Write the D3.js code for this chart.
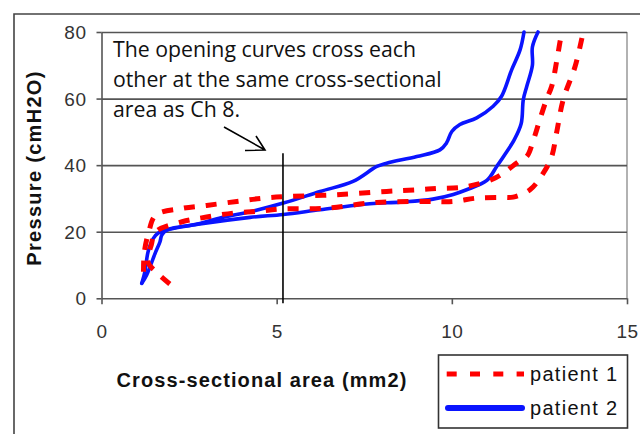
<!DOCTYPE html>
<html>
<head>
<meta charset="utf-8">
<script src="https://cdn.jsdelivr.net/npm/d3@7"></script>
<style>
  html, body { margin: 0; padding: 0; background: #fff; }
  svg { display: block; }
</style>
</head>
<body>
<svg id="chart" width="640" height="434"></svg>
<script>
// ---- data ----
const xTicks = [0, 5, 10, 15];
const yTicks = [0, 20, 40, 60, 80];
const seriesNames = ["patient 1", "patient 2"];

// patient 1 (red dashed) – two curves
const patient1CurveA = [
  [1.95, 4.3], [1.6, 7.5], [1.32, 11], [1.42, 16], [1.55, 20], [2.3, 23],
  [3.0, 24.4], [3.76, 25.6], [4.43, 26.1], [5.1, 26.8], [6.43, 27.1],
  [7.86, 28.8], [9.28, 29.1], [10.04, 29.1], [10.71, 30.1], [11.47, 30.3],
  [11.75, 30.4], [12.23, 32.6], [12.61, 37.6], [12.85, 42.6], [12.99, 49.7],
  [13.18, 59.7], [13.52, 69.7], [13.75, 80]
];
const patient1CurveB = [
  [1.2, 8], [1.22, 13.6], [1.35, 20], [1.55, 25], [2.3, 27], [3.0, 27.9],
  [3.86, 29.1], [4.62, 30.1], [5.38, 30.6], [6.7, 31.1], [8.14, 32.1],
  [9.0, 32.6], [9.6, 33.0], [10.4, 33.5], [11.25, 36.2], [11.9, 41],
  [12.14, 42.6], [12.33, 47.6], [12.51, 53.6], [12.7, 59.7], [12.85, 63.7],
  [13.0, 71.7], [13.1, 77.7], [13.15, 80]
];

// patient 2 (blue solid) – two curves
const patient2CurveA = [
  [1.15, 4.5], [1.24, 8], [1.33, 14], [1.48, 18], [1.62, 19.6], [1.86, 20.5],
  [2.81, 22.5], [3.5, 24.4], [4.24, 26], [5.19, 28.6], [6.24, 32.1],
  [7.18, 35.1], [7.86, 39.6], [8.14, 40.6], [9.0, 42.6], [9.66, 44.6],
  [9.85, 46.7], [10.0, 50.1], [10.23, 52.2], [10.71, 54.2], [11.18, 57.7],
  [11.42, 60.7], [11.71, 68.7], [11.95, 74.7], [12.06, 80]
];
const patient2CurveB = [
  [1.15, 4.5], [1.29, 7], [1.53, 13.5], [1.67, 17], [1.72, 19], [1.86, 20.5],
  [2.81, 22.3], [4.24, 24.3], [5.19, 25.2], [6.24, 26.6], [7.66, 28.4],
  [8.52, 28.9], [9.46, 29.8], [10.04, 31.2], [10.42, 32.6], [11.0, 35.4],
  [11.28, 39.6], [11.5, 43], [11.78, 47.6], [11.98, 52.5], [12.04, 59.7],
  [12.14, 63.7], [12.3, 70], [12.3, 75.5], [12.46, 80]
];

const annotationLines = [
  "The opening curves cross each",
  "other at the same cross-sectional",
  "area as Ch 8."
];
const markerX = 5.18;
const markerTopP = 43.6;
const xLabel = "Cross-sectional area (mm2)";
const yLabel = "Pressure (cmH2O)";

// ---- drawing ----
const svg = d3.select("#chart");
const x = d3.scaleLinear().domain([0, 15]).range([101.5, 627]);
const y = d3.scaleLinear().domain([0, 80]).range([298.3, 32]);
const arial = "'Liberation Sans', Arial, sans-serif";

// outer frame (top & left visible)
svg.append("path")
  .attr("d", "M14,434 L14,14 L640,14")
  .attr("fill", "none").attr("stroke", "#444").attr("stroke-width", 1.6);

// right plot border
svg.append("line")
  .attr("x1", x(15)).attr("x2", x(15)).attr("y1", y(80)).attr("y2", y(0))
  .attr("stroke", "#999").attr("stroke-width", 1.5);

// gridlines
const grid = svg.append("g").attr("transform", `translate(${x(0)},0)`)
  .call(d3.axisLeft(y).tickValues(yTicks.filter(v => v > 0)).tickSize(-(x(15) - x(0))).tickFormat(""));
grid.select(".domain").remove();
grid.selectAll("line").attr("stroke", "#555").attr("stroke-width", 1.6);

// y axis
const yAxis = svg.append("g").attr("transform", `translate(${x(0)},0)`)
  .call(d3.axisLeft(y).tickValues(yTicks).tickSize(5).tickPadding(10).tickSizeOuter(0));
yAxis.select(".domain").attr("stroke", "#555").attr("stroke-width", 1.6);
yAxis.selectAll("line").attr("stroke", "#555").attr("stroke-width", 1.6);
yAxis.selectAll("text").attr("font-family", arial).attr("font-size", 19)
  .attr("letter-spacing", 0.5).attr("fill", "#333").attr("dy", "0.35em");

// x axis
const xAxis = svg.append("g").attr("transform", `translate(0,${y(0)})`)
  .call(d3.axisBottom(x).tickValues(xTicks).tickSize(6).tickSizeOuter(0));
xAxis.select(".domain").attr("stroke", "#555").attr("stroke-width", 1.6);
xAxis.selectAll("line").attr("stroke", "#555").attr("stroke-width", 1.6);
xAxis.selectAll("text").attr("font-family", arial).attr("font-size", 19)
  .attr("letter-spacing", 0.5).attr("fill", "#333").attr("y", 39.5).attr("dy", 0);

// axis titles
svg.append("text")
  .attr("x", 262).attr("y", 387).attr("text-anchor", "middle")
  .attr("font-family", arial).attr("font-weight", "bold").attr("font-size", 20)
  .attr("letter-spacing", 1.1).attr("fill", "#111").text(xLabel);
svg.append("text")
  .attr("transform", `translate(41,168) rotate(-90)`).attr("text-anchor", "middle")
  .attr("font-family", arial).attr("font-weight", "bold").attr("font-size", 20)
  .attr("letter-spacing", 1.3).attr("fill", "#111").text(yLabel);

// curves
const line = d3.line().x(d => x(d[0])).y(d => y(d[1])).curve(d3.curveCatmullRom.alpha(0.5));
const plot = svg.append("g");
[patient2CurveA, patient2CurveB].forEach(c => {
  plot.append("path").attr("d", line(c)).attr("fill", "none")
    .attr("stroke", "#0a14ff").attr("stroke-width", 3.6)
    .attr("stroke-linejoin", "round").attr("stroke-linecap", "round");
});
[patient1CurveA, patient1CurveB].forEach(c => {
  plot.append("path").attr("d", line(c)).attr("fill", "none")
    .attr("stroke", "#ff0000").attr("stroke-width", 5)
    .attr("stroke-dasharray", "11,11");
});

// annotation
const ann = svg.append("text").attr("font-family", "'Open Sans', 'Noto Sans', sans-serif")
  .attr("font-size", 20).attr("fill", "#111");
annotationLines.forEach((t, i) => {
  ann.append("tspan").attr("x", 113).attr("y", 57 + i * 30).text(t);
});
// fit line 2 width to ~329px
const spans = ann.selectAll("tspan").nodes();
const w = spans[1].getComputedTextLength();
if (w > 0) ann.attr("font-size", 20 * 329 / w);

// marker vertical line
svg.append("line")
  .attr("x1", x(markerX)).attr("x2", x(markerX))
  .attr("y1", y(markerTopP)).attr("y2", y(0) + 5)
  .attr("stroke", "#000").attr("stroke-width", 1.6);

// arrow
svg.append("path")
  .attr("d", "M224,127 L265,150 M245,150.5 L265,150 L256,136")
  .attr("fill", "none").attr("stroke", "#000").attr("stroke-width", 1.6);

// legend
const lg = svg.append("g");
lg.append("rect").attr("x", 438.5).attr("y", 355).attr("width", 189).attr("height", 73)
  .attr("fill", "#fff").attr("stroke", "#333").attr("stroke-width", 1.6);
lg.append("line").attr("x1", 446.7).attr("x2", 524).attr("y1", 374).attr("y2", 374)
  .attr("stroke", "#ff0000").attr("stroke-width", 5).attr("stroke-dasharray", "10,13.3");
lg.append("line").attr("x1", 448).attr("x2", 522).attr("y1", 408).attr("y2", 408)
  .attr("stroke", "#0a14ff").attr("stroke-width", 6).attr("stroke-linecap", "round");
seriesNames.forEach((n, i) => {
  lg.append("text").attr("x", 530).attr("y", 381 + i * 34)
    .attr("font-family", arial).attr("font-size", 20).attr("letter-spacing", 1.3)
    .attr("fill", "#111").text(n);
});
</script>
</body>
</html>
